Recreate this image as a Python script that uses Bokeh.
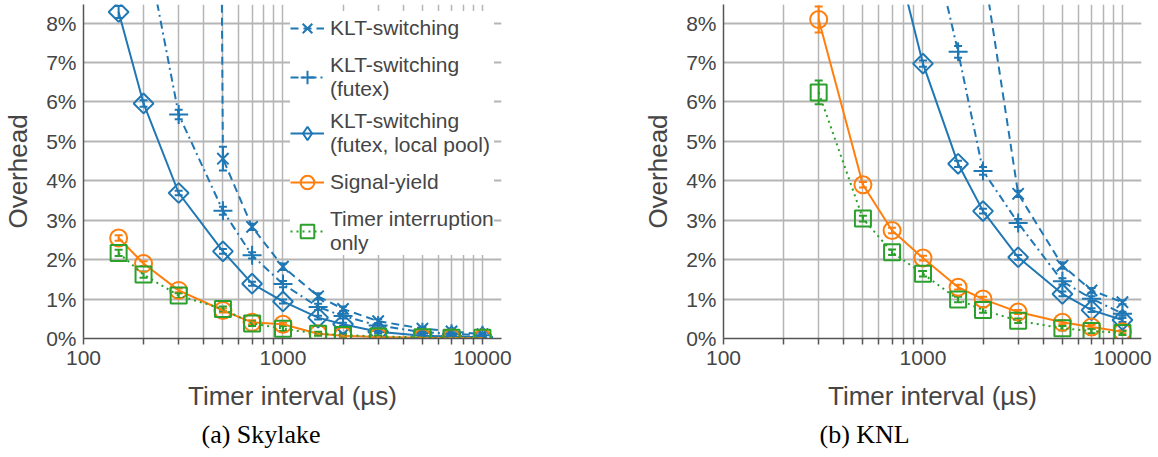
from bokeh.plotting import figure
from bokeh.layouts import row
from bokeh.models import (ColumnDataSource, Whisker, TeeHead, FixedTicker, NumeralTickFormatter,
                          PrintfTickFormatter, Legend, LegendItem, Title)
from bokeh.embed import file_html
from bokeh.resources import INLINE

# ---------------- data (percent) ----------------
x_major_ticks = [100, 1000, 10000]
x_minor_ticks = [200, 300, 400, 500, 600, 700, 800, 900,
                 2000, 3000, 4000, 5000, 6000, 7000, 8000, 9000]
y_ticks = [0, 1, 2, 3, 4, 5, 6, 7, 8]

series_names = ["KLT-switching", "KLT-switching\n(futex)", "KLT-switching\n(futex, local pool)",
                "Signal-yield", "Timer interruption\nonly"]

# (a) Skylake
sky_klt_x = [300, 500, 700, 1000, 1500, 2000, 3000, 5000, 7000, 10000]
sky_klt = [170.0, 4.56, 2.83, 1.82, 1.07, 0.75, 0.44, 0.25, 0.18, 0.11]
sky_klt_err = [0.5, 0.30, 0.08, 0.08, 0.08, 0.06, 0.05, 0.04, 0.04, 0.03]
sky_futex_x = [200, 300, 500, 700, 1000, 1500, 2000, 3000, 5000, 7000, 10000]
sky_futex = [10.3, 5.68, 3.24, 2.11, 1.38, 0.80, 0.57, 0.33, 0.16, 0.12, 0.08]
sky_futex_err = [0.2, 0.12, 0.10, 0.08, 0.08, 0.08, 0.06, 0.05, 0.04, 0.04, 0.03]
sky_pool_x = [150, 200, 300, 500, 700, 1000, 1500, 2000, 3000, 5000, 7000, 10000]
sky_pool = [8.28, 5.96, 3.69, 2.21, 1.39, 0.94, 0.53, 0.36, 0.17, 0.07, 0.05, 0.03]
sky_pool_err = [0.15, 0.08, 0.06, 0.06, 0.05, 0.05, 0.05, 0.04, 0.03, 0.02, 0.02, 0.02]
sky_signal_x = [150, 200, 300, 500, 700, 1000, 1500, 2000, 3000, 5000, 7000, 10000]
sky_signal = [2.55, 1.90, 1.22, 0.71, 0.41, 0.36, 0.12, 0.07, 0.04, 0.02, 0.01, 0.01]
sky_signal_err = [0.07, 0.06, 0.05, 0.05, 0.05, 0.04, 0.04, 0.03, 0.02, 0.02, 0.01, 0.01]
sky_timer_x = [150, 200, 300, 500, 700, 1000, 1500, 2000, 3000, 5000, 7000, 10000]
sky_timer = [2.17, 1.62, 1.09, 0.75, 0.38, 0.25, 0.12, 0.09, 0.05, 0.03, 0.02, 0.02]
sky_timer_err = [0.08, 0.08, 0.06, 0.06, 0.06, 0.06, 0.05, 0.04, 0.03, 0.02, 0.02, 0.02]

# (b) KNL
knl_klt_x = [2000, 3000, 5000, 7000, 10000]
knl_klt = [9.5, 3.67, 1.85, 1.22, 0.92]
knl_klt_err = [0.1, 0.08, 0.08, 0.06, 0.05]
knl_futex_x = [1000, 1500, 2000, 3000, 5000, 7000, 10000]
knl_futex = [11.1, 7.27, 4.25, 2.93, 1.45, 1.01, 0.63]
knl_futex_err = [0.15, 0.15, 0.10, 0.10, 0.08, 0.06, 0.05]
knl_pool_x = [700, 1000, 1500, 2000, 3000, 5000, 7000, 10000]
knl_pool = [10.1, 6.97, 4.43, 3.23, 2.06, 1.13, 0.72, 0.47]
knl_pool_err = [0.1, 0.08, 0.08, 0.06, 0.06, 0.06, 0.05, 0.05]
knl_signal_x = [300, 500, 700, 1000, 1500, 2000, 3000, 5000, 7000, 10000]
knl_signal = [8.09, 3.90, 2.74, 2.04, 1.30, 1.00, 0.67, 0.41, 0.29, 0.17]
knl_signal_err = [0.33, 0.07, 0.07, 0.06, 0.06, 0.06, 0.05, 0.05, 0.05, 0.04]
knl_timer_x = [300, 500, 700, 1000, 1500, 2000, 3000, 5000, 7000, 10000]
knl_timer = [6.24, 3.04, 2.19, 1.64, 0.99, 0.72, 0.45, 0.26, 0.19, 0.14]
knl_timer_err = [0.30, 0.07, 0.07, 0.07, 0.07, 0.07, 0.06, 0.06, 0.06, 0.05]

# ---------------- styling ----------------
BLUE, ORANGE, GREEN = "#1f77b4", "#ff7f0e", "#2ca02c"
TXT = "#454545"
FONT = "Liberation Sans"

styles = [
    dict(color=BLUE, dash="8 5", marker="x", size=16, legend_marker="x"),
    dict(color=BLUE, dash="8 4 2 4", marker="cross", size=19, legend_marker="cross"),
    dict(color=BLUE, dash="solid", marker="square", size=14, angle=0.785398, legend_marker="diamond"),
    dict(color=ORANGE, dash="solid", marker="circle", size=17, legend_marker="circle"),
    dict(color=GREEN, dash="2 4", marker="square", size=16, legend_marker="square"),
]


def make_plot(data, caption, caption_offset, left_border, right_border, legend):
    p = figure(frame_width=418, frame_height=334, x_axis_type="log",
               x_range=(100, 12460), y_range=(0, 8.47),
               min_border_left=left_border, min_border_right=right_border,
               min_border_top=4, min_border_bottom=119,
               output_backend="svg", toolbar_location=None)
    p.outline_line_color = None
    p.background_fill_color = "white"
    p.border_fill_color = "white"

    items = []
    for (xs, ys, es), st, name in zip(data, styles, series_names):
        src = ColumnDataSource(dict(x=xs, y=ys,
                                    lo=[a - b for a, b in zip(ys, es)],
                                    hi=[a + b for a, b in zip(ys, es)]))
        ln = p.line("x", "y", source=src, line_color=st["color"], line_width=2,
                    line_dash=st["dash"])
        p.scatter("x", "y", source=src, marker=st["marker"], size=st["size"],
                  angle=st.get("angle", 0.0),
                  line_color=st["color"], line_width=2, fill_alpha=0)
        w = Whisker(source=src, base="x", upper="hi", lower="lo", dimension="height",
                    line_color=st["color"], line_width=2,
                    upper_head=TeeHead(size=8, line_color=st["color"], line_width=2),
                    lower_head=TeeHead(size=8, line_color=st["color"], line_width=2))
        p.add_layout(w)
        # legend-only marker renderer (drawn outside the visible ranges)
        ghost_src = ColumnDataSource(dict(x=[xs[0] / 1000.0], y=[-50.0]))
        gh = p.scatter("x", "y", source=ghost_src, marker=st["legend_marker"], size=st["size"],
                       line_color=st["color"], line_width=2, fill_alpha=0)
        items.append(LegendItem(label=name, renderers=[ln, gh]))

    # axes
    xax = p.xaxis[0]
    xax.ticker = FixedTicker(ticks=x_major_ticks, minor_ticks=x_minor_ticks)
    xax.formatter = NumeralTickFormatter(format="0")
    xax.major_tick_out = 6
    xax.major_tick_in = 0
    xax.minor_tick_out = 6
    xax.minor_tick_in = 0
    xax.major_tick_line_color = "#555555"
    xax.minor_tick_line_color = "#555555"
    xax.major_tick_line_width = 1.5
    xax.minor_tick_line_width = 1.5
    xax.axis_line_color = "#555555"
    xax.axis_line_width = 1.5
    xax.axis_label = "Timer interval (µs)"

    yax = p.yaxis[0]
    yax.ticker = FixedTicker(ticks=y_ticks, minor_ticks=[])
    yax.formatter = PrintfTickFormatter(format="%d%%")
    yax.major_tick_out = 0
    yax.major_tick_in = 0
    yax.minor_tick_out = 0
    yax.minor_tick_in = 0
    yax.axis_line_color = "#555555"
    yax.axis_line_width = 1.5
    yax.axis_label = "Overhead"

    for ax in (xax, yax):
        ax.major_label_text_font = FONT
        ax.major_label_text_font_size = "21px"
        ax.major_label_text_color = TXT
        ax.axis_label_text_font = FONT
        ax.axis_label_text_font_size = "26px"
        ax.axis_label_text_font_style = "normal"
        ax.axis_label_text_color = TXT
    xax.major_label_standoff = 6
    xax.axis_label_standoff = 13
    yax.major_label_standoff = 7
    yax.axis_label_standoff = 10

    p.xgrid.grid_line_color = "#b5b5b5"
    p.xgrid.grid_line_width = 1.5
    p.xgrid.minor_grid_line_color = "#b5b5b5"
    p.xgrid.minor_grid_line_width = 1.5
    p.ygrid.grid_line_color = "#b5b5b5"
    p.ygrid.grid_line_width = 2

    if legend:
        lg = Legend(items=items, location=(207, 83),
                    label_text_font=FONT, label_text_font_size="21px",
                    label_text_color=TXT,
                    background_fill_color="white", background_fill_alpha=1.0,
                    border_line_color=None, glyph_width=34, glyph_height=34,
                    label_standoff=6, spacing=8, padding=4, margin=0)
        p.add_layout(lg)

    t = Title(text=caption, align="left", offset=caption_offset,
              text_font="Liberation Serif", text_font_size="26px",
              text_font_style="normal", text_color="black", standoff=8)
    p.add_layout(t, "below")
    return p


sky_data = [(sky_klt_x, sky_klt, sky_klt_err), (sky_futex_x, sky_futex, sky_futex_err),
            (sky_pool_x, sky_pool, sky_pool_err), (sky_signal_x, sky_signal, sky_signal_err),
            (sky_timer_x, sky_timer, sky_timer_err)]
knl_data = [(knl_klt_x, knl_klt, knl_klt_err), (knl_futex_x, knl_futex, knl_futex_err),
            (knl_pool_x, knl_pool, knl_pool_err), (knl_signal_x, knl_signal, knl_signal_err),
            (knl_timer_x, knl_timer, knl_timer_err)]

p1 = make_plot(sky_data, "(a) Skylake", 118, 79, 82, True)
p2 = make_plot(knl_data, "(b) KNL", 96, 140, 21, False)

layout = row(p1, p2)
open("out.html", "w").write(file_html(layout, INLINE))
